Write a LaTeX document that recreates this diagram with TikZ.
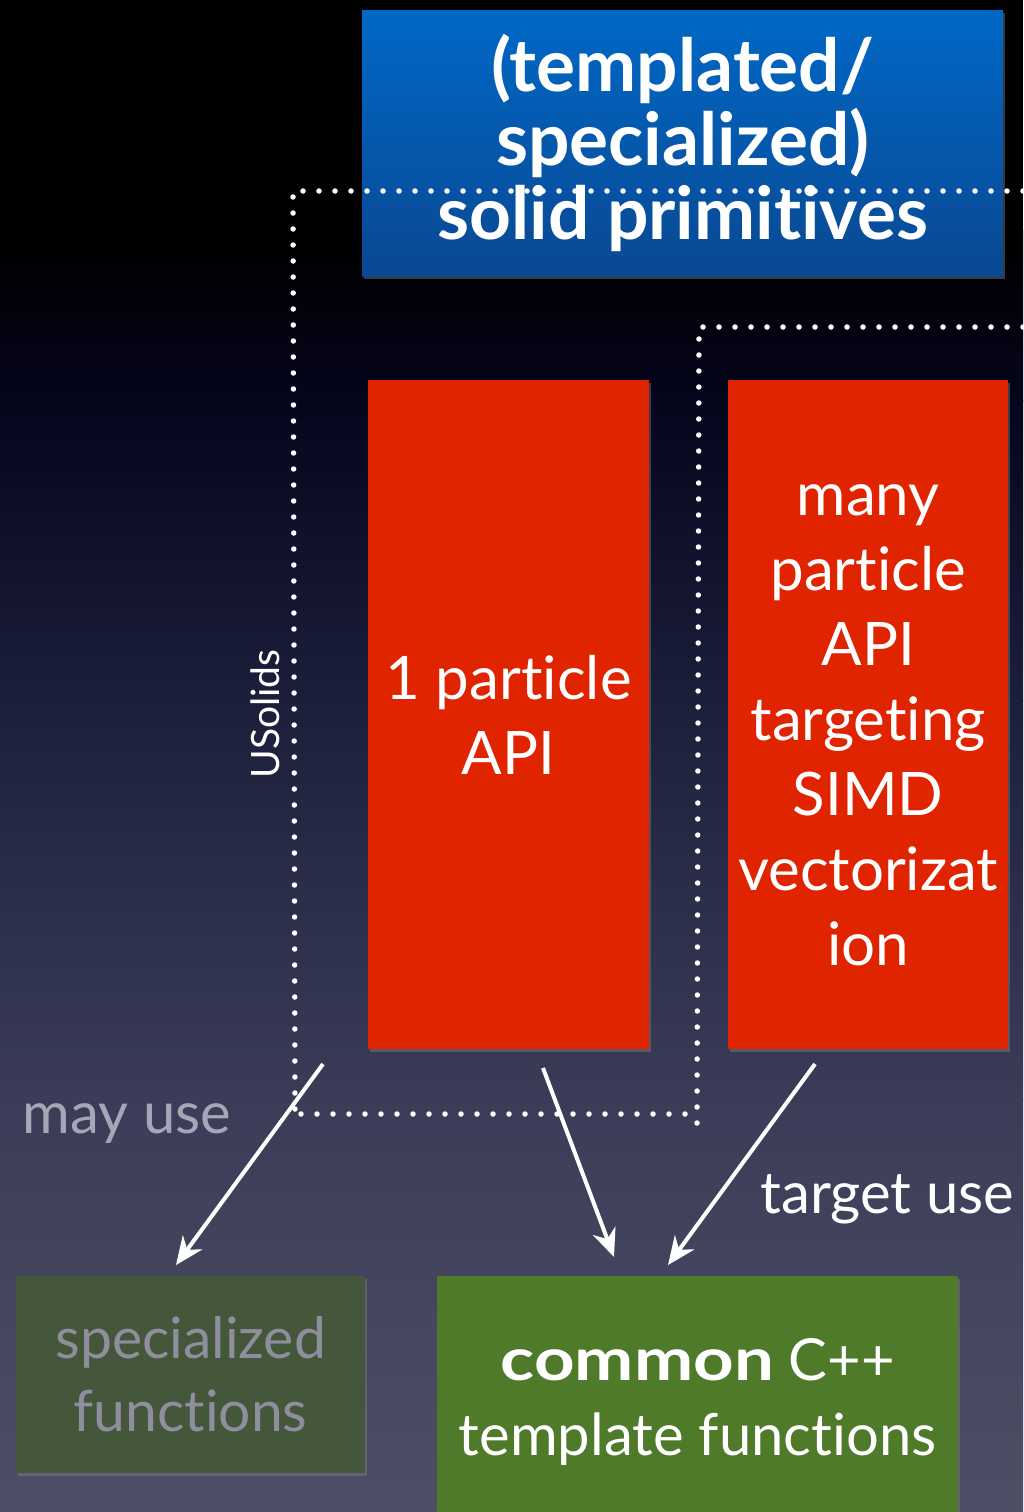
\documentclass[tikz,border=0pt]{standalone}
\usepackage{fontspec}
\setmainfont{Lato}[RawFeature={-liga;-clig;-calt;-dlig}]
\usetikzlibrary{arrows.meta,shadows}
\definecolor{bgB}{HTML}{05051C}
\definecolor{bgC}{HTML}{1C1F3B}
\definecolor{bgD}{HTML}{3B3D58}
\definecolor{bgE}{HTML}{4E4E66}
\definecolor{blueTop}{HTML}{0068C6}
\definecolor{blueBot}{HTML}{0A4892}
\definecolor{redbox}{HTML}{E02400}
\definecolor{greenbox}{HTML}{4E7A2A}
\definecolor{dimgreen}{HTML}{44573A}
\definecolor{dimtext}{HTML}{8E8E9E}
\definecolor{labelgray}{HTML}{A6A6B6}
\begin{document}
\begin{tikzpicture}[x=1pt,y=-1pt,
  box/.style={rectangle, inner sep=0pt, anchor=north west, align=center,
    drop shadow={opacity=0.45, shadow xshift=2pt, shadow yshift=-3pt}},
  bigtext/.style={font=\fontsize{60}{75}\selectfont, text=white},
  dotline/.style={white, line width=5.5pt, line cap=round, dash pattern=on 0pt off 16pt},
  usearrow/.style={white, line width=4pt, -{Stealth[length=28pt,width=24pt,inset=9pt]}},
  lbl/.style={font=\fontsize{58}{72}\selectfont}
]
\useasboundingbox (0,0) rectangle (1023,1512);
% background
\fill[black] (0,0) rectangle (1023,231);
\fill[top color=black,bottom color=bgB] (0,230) rectangle (1023,401);
\fill[top color=bgB,bottom color=bgC] (0,400) rectangle (1023,701);
\fill[top color=bgC,bottom color=bgD] (0,700) rectangle (1023,1101);
\fill[top color=bgD,bottom color=bgE] (0,1100) rectangle (1023,1512);

% solid primitives
\node[box, top color=blueTop, bottom color=blueBot, minimum width=641, minimum height=266,
  font=\fontsize{73}{74}\selectfont\bfseries, text=white] (prim) at (362,10)
  {(templated/\\specialized)\\solid primitives};

% red boxes
\node[box, fill=redbox, minimum width=281, minimum height=669, bigtext] (one) at (368,380)
  {1 particle\\API};
\node[box, fill=redbox, minimum width=280, minimum height=669,
  label={[bigtext, align=center, yshift=-11pt]center:{many\\particle\\API\\targeting\\SIMD\\vectorizat\\ion}}] (many) at (728,380) {};

% green boxes
\node[box, fill=dimgreen, minimum width=349, minimum height=197,
  font=\fontsize{57}{73}\selectfont, text=dimtext] (spec) at (16,1276)
  {specialized\\functions};
\node[box, fill=greenbox, minimum width=521, minimum height=236,
  label={[font=\fontsize{58}{75}\selectfont, text=white, align=center, yshift=-8pt]center:{\scalebox{1.22}[1.02]{\textbf{common}} C++\\template functions}}] (common) at (437,1276) {};

% dotted groupings
\draw[dotline] (1023,191) -- (293,191) -- (295,1120);
\draw[dotline] (301,1114) -- (697,1114);
\draw[dotline] (1023,327) -- (699,327) -- (697,1131);

% labels
\node[font=\fontsize{39}{45}\selectfont, text=white, rotate=90] (usolids) at (265,714) {USolids};
\node[lbl, text=labelgray, anchor=base west] (mayuse) at (19,1133) {may use};
\node[lbl, text=white, anchor=base west] (targetuse) at (757,1213) {target use};

% arrows
\coordinate (a1s) at (323,1064);
\coordinate (a1e) at (176,1265);
\coordinate (a2s) at (543,1068);
\coordinate (a2e) at (614,1257);
\coordinate (a3s) at (815,1064);
\coordinate (a3e) at (668,1265);
\draw[usearrow] (a1s) -- (a1e);
\draw[usearrow] (a2s) -- (a2e);
\draw[usearrow] (a3s) -- (a3e);
\end{tikzpicture}
\end{document}
